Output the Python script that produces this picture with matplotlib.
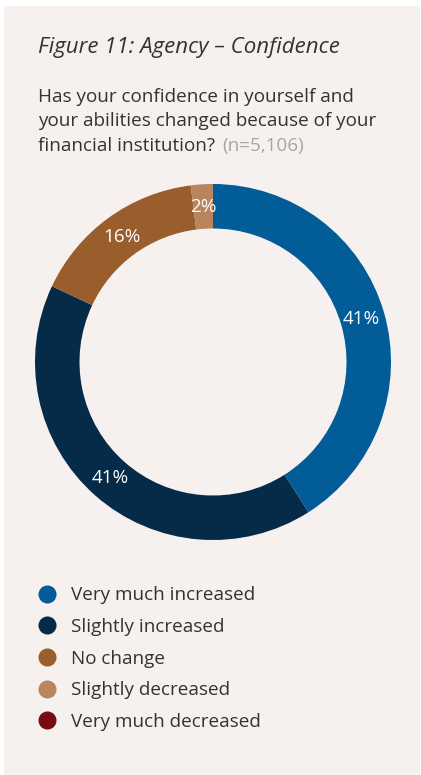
import numpy as np
import matplotlib.pyplot as plt
from matplotlib.patches import Rectangle
from matplotlib.lines import Line2D

categories = ["Very much increased", "Slightly increased", "No change",
              "Slightly decreased", "Very much decreased"]
values = [41, 41, 16, 2, 0]
colors = ["#015c97", "#062b48", "#9a5d2c", "#b9855f", "#760c12"]

title = "Figure 11: Agency \u2013 Confidence"
question_lines = ["Has your confidence in yourself and",
                  "your abilities changed because of your",
                  "financial institution?"]
n_text = "(n=5,106)"

W, H = 421, 775
fig = plt.figure(figsize=(W / 100, H / 100), dpi=100)
fig.patch.set_facecolor("white")
fig.patches.append(Rectangle((4 / W, 0), (W - 5) / W, (H - 6) / H,
                             transform=fig.transFigure, facecolor="#f6f1ee",
                             edgecolor="none", zorder=-10))

font = "Open Sans"
txt = "#333333"
fs = 13.6
fig.text(38 / W, 1 - 47 / H, title, fontsize=16, style="italic", family=font,
         color=txt, va="center")
last = None
for i, line in enumerate(question_lines):
    last = fig.text(38 / W, 1 - (97 + 24.5 * i) / H, line, fontsize=fs,
                    family=font, color=txt, va="center")
fig.add_artist(plt.Annotation(n_text, xy=(1, 0.5), xycoords=last,
                              xytext=(5, 0), textcoords="offset points",
                              fontsize=fs, family=font, color="#a6a6a6",
                              va="center", ha="left"))

# donut
cx, cy, r = 213, 362, 178
ax = fig.add_axes([(cx - r) / W, 1 - (cy + r) / H, 2 * r / W, 2 * r / H])
ax.set_facecolor("none")
ax.pie(values, colors=colors, startangle=90, counterclock=False,
       radius=1, wedgeprops=dict(width=0.25, edgecolor="none"))
start = 90.0
for v in values:
    if v > 0:
        mid = np.deg2rad(start - v * 3.6 / 2)
        rr = 0.87
        ax.text(rr * np.cos(mid), rr * np.sin(mid), f"{v}%", color="white",
                fontsize=fs, family=font, ha="center", va="center")
    start -= v * 3.6
ax.set_xlim(-1, 1)
ax.set_ylim(-1, 1)
ax.set_aspect("equal")
ax.axis("off")

handles = [Line2D([], [], marker="o", linestyle="none", markersize=13,
                  markerfacecolor=c, markeredgecolor="none") for c in colors]
fig.legend(handles, categories, loc="upper left",
           bbox_to_anchor=(26 / W, 1 - 577 / H), frameon=False,
           prop=dict(family=font, size=fs), labelcolor=txt,
           handletextpad=0.66, labelspacing=0.72, handlelength=1.2, borderpad=0)

fig.savefig("out.png", dpi=100, facecolor=fig.get_facecolor())
